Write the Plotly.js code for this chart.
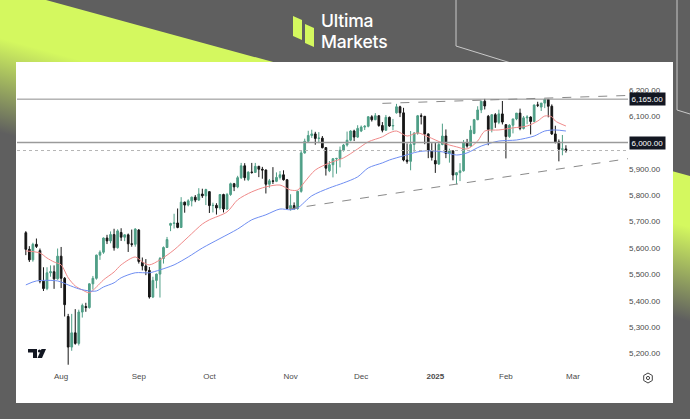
<!DOCTYPE html>
<html>
<head>
<meta charset="utf-8">
<script src="https://cdn.plot.ly/plotly-3.0.1.min.js"></script>
<style>
  html, body { margin:0; padding:0; width:690px; height:419px; overflow:hidden; background:#5f5f5f; }
  #bg { position:absolute; left:0; top:0; }
  #panel { position:absolute; left:16px; top:62px; width:657px; height:341px; background:#ffffff; }
  #chart { width:657px; height:341px; }
  .brand { position:absolute; left:321px; color:#ffffff; font-family:Inter, Roboto, "Liberation Sans", sans-serif; font-weight:500; font-size:17.5px; line-height:17px; letter-spacing:-0.2px; white-space:nowrap; }
  #overlay { position:absolute; left:0; top:0; pointer-events:none; }
</style>
</head>
<body>
<svg id="bg" width="690" height="419" xmlns="http://www.w3.org/2000/svg">
  <defs>
    <linearGradient id="lime" gradientUnits="userSpaceOnUse" x1="360" y1="86" x2="323" y2="221">
      <stop offset="0" stop-color="#d4f85f"/>
      <stop offset="0.35" stop-color="#d4f85f"/>
      <stop offset="1" stop-color="#5f5f5f"/>
    </linearGradient>
  </defs>
  <rect x="0" y="0" width="690" height="419" fill="#5f5f5f"/>
  <polygon points="0,0 46,0 690,176 690,419 0,419" fill="url(#lime)"/>
  <polyline points="456,0 456,46 540,72" fill="none" stroke="#c9c9c9" stroke-width="1"/>
  <polyline points="677,0 677,110 690,114" fill="none" stroke="#c9c9c9" stroke-width="1"/>
  <polygon points="293,16 302,20 302,40 293,36" fill="#d4f85f"/>
  <polygon points="305,24 314,28 314,47 305,43" fill="#d4f85f"/>
</svg>
<div class="brand" style="top:12px;">Ultima</div>
<div class="brand" style="top:33px;">Markets</div>
<div id="panel"><div id="chart"></div></div>
<svg id="overlay" width="690" height="419" xmlns="http://www.w3.org/2000/svg">
  <path d="M28,349 H37 V358 H33 V352.5 H28 Z" fill="#131722"/>
  <circle cx="39.5" cy="351" r="1.6" fill="#131722"/>
  <path d="M41.5,349 H46 L42,358 H37.5 Z" fill="#131722"/>
  <polygon points="648,373 652.3,375.5 652.3,380.5 648,383 643.7,380.5 643.7,375.5" fill="none" stroke="#444" stroke-width="1"/>
  <circle cx="648" cy="378" r="1.6" fill="none" stroke="#444" stroke-width="1"/>
</svg>
<script>
// ---- data (futures daily candles) ----
const dates = [
 '2024-07-18','2024-07-19','2024-07-22','2024-07-23','2024-07-24','2024-07-25','2024-07-26','2024-07-29','2024-07-30','2024-07-31',
 '2024-08-01','2024-08-02','2024-08-05','2024-08-06','2024-08-07','2024-08-08','2024-08-09','2024-08-12','2024-08-13','2024-08-14','2024-08-15','2024-08-16','2024-08-19','2024-08-20','2024-08-21','2024-08-22','2024-08-23','2024-08-26','2024-08-27','2024-08-28','2024-08-29','2024-08-30',
 '2024-09-03','2024-09-04','2024-09-05','2024-09-06','2024-09-09','2024-09-10','2024-09-11','2024-09-12','2024-09-13','2024-09-16','2024-09-17','2024-09-18','2024-09-19','2024-09-20','2024-09-23','2024-09-24','2024-09-25','2024-09-26','2024-09-27','2024-09-30',
 '2024-10-01','2024-10-02','2024-10-03','2024-10-04','2024-10-07','2024-10-08','2024-10-09','2024-10-10','2024-10-11','2024-10-14','2024-10-15','2024-10-16','2024-10-17','2024-10-18','2024-10-21','2024-10-22','2024-10-23','2024-10-24','2024-10-25','2024-10-28','2024-10-29','2024-10-30','2024-10-31',
 '2024-11-01','2024-11-04','2024-11-05','2024-11-06','2024-11-07','2024-11-08','2024-11-11','2024-11-12','2024-11-13','2024-11-14','2024-11-15','2024-11-18','2024-11-19','2024-11-20','2024-11-21','2024-11-22','2024-11-25','2024-11-26','2024-11-27','2024-11-29',
 '2024-12-02','2024-12-03','2024-12-04','2024-12-05','2024-12-06','2024-12-09','2024-12-10','2024-12-11','2024-12-12','2024-12-13','2024-12-16','2024-12-17','2024-12-18','2024-12-19','2024-12-20','2024-12-23','2024-12-24','2024-12-26','2024-12-27','2024-12-30','2024-12-31',
 '2025-01-02','2025-01-03','2025-01-06','2025-01-07','2025-01-08','2025-01-10','2025-01-13','2025-01-14','2025-01-15','2025-01-16','2025-01-17','2025-01-21','2025-01-22','2025-01-23','2025-01-24','2025-01-27','2025-01-28','2025-01-29','2025-01-30','2025-01-31',
 '2025-02-03','2025-02-04','2025-02-05','2025-02-06','2025-02-07','2025-02-10','2025-02-11','2025-02-12','2025-02-13','2025-02-14','2025-02-18','2025-02-19','2025-02-20','2025-02-21','2025-02-24','2025-02-25','2025-02-26','2025-02-27'
];
const openP = [
 5658,5595,5555,5614,5590,5474,5446,5506,5510,5483,
 5569,5485,5340,5224,5278,5238,5357,5378,5374,5464,5485,5573,5584,5638,5627,5651,5601,5659,5641,5650,5616,5614,
 5668,5545,5532,5515,5414,5477,5501,5560,5602,5686,5693,5695,5678,5774,5763,5779,5793,5782,5805,5798,
 5814,5761,5762,5752,5803,5748,5803,5844,5832,5867,5912,5860,5888,5887,5910,5899,5896,5842,5855,5853,5868,5878,5859,
 5750,5761,5750,5815,5961,6005,6027,6033,6016,6017,5981,5893,5916,5939,5940,5971,5991,6009,6044,6021,
 6044,6059,6062,6098,6087,6102,6065,6047,6096,6063,6113,6136,6113,5934,5929,5993,6036,6102,6100,6033,5969,
 5932,5919,5993,6025,5959,5968,5877,5886,5893,6000,5987,6035,6087,6124,6157,6100,6050,6106,6077,6109,
 6068,6023,6066,6090,6112,6054,6094,6097,6080,6143,6135,6150,6164,6138,6033,6003,5975,5976
];
const highP = [
 5664,5607,5620,5636,5598,5527,5527,5534,5534,5598,
 5604,5490,5350,5350,5368,5366,5389,5392,5466,5494,5575,5591,5640,5650,5663,5673,5671,5675,5652,5655,5670,5675,
 5672,5564,5558,5528,5491,5503,5566,5606,5642,5696,5730,5750,5793,5776,5785,5795,5801,5827,5825,5825,
 5815,5772,5770,5805,5806,5809,5848,5847,5874,5923,5922,5891,5923,5923,5912,5908,5898,5862,5907,5887,5892,5895,5862,
 5804,5773,5818,5968,6015,6045,6049,6041,6040,6025,5983,5930,5941,5942,5985,5995,6042,6047,6049,6066,
 6065,6066,6101,6104,6112,6104,6078,6105,6099,6090,6147,6140,6132,5997,6044,6040,6105,6111,6101,6035,5998,
 5999,5999,6072,6050,5977,5972,5887,5922,6010,6014,6064,6090,6138,6157,6166,6105,6107,6112,6125,6158,
 6070,6070,6090,6112,6129,6101,6104,6100,6144,6155,6150,6167,6165,6145,6064,6012,6029,5990
];
const lowP = [
 5573,5547,5548,5600,5466,5437,5440,5491,5445,5480,
 5448,5340,5157,5210,5233,5230,5336,5358,5370,5442,5480,5555,5578,5615,5618,5590,5598,5627,5626,5585,5605,5605,
 5541,5515,5497,5408,5410,5447,5412,5541,5600,5664,5674,5675,5676,5734,5758,5758,5774,5779,5790,5763,
 5733,5735,5727,5745,5735,5745,5798,5816,5827,5862,5856,5854,5882,5885,5869,5863,5807,5829,5843,5850,5860,5856,5748,
 5742,5745,5745,5810,5958,6000,6018,5992,5998,5978,5875,5888,5868,5882,5906,5966,5985,6005,6006,6018,
 6040,6048,6058,6080,6085,6060,6039,6045,6060,6047,6110,6097,5929,5920,5895,5965,6030,6069,5994,5941,5932,
 5885,5915,5990,5941,5924,5857,5842,5854,5890,5981,5985,6032,6085,6112,6126,5990,6039,6056,6070,6069,
 5940,6018,6035,6085,6047,6050,6070,6031,6078,6135,6120,6131,6096,6029,5997,5929,5952,5962
];
const closeP = [
 5595,5555,5614,5606,5474,5446,5506,5510,5483,5569,
 5485,5385,5224,5278,5238,5357,5382,5374,5464,5485,5573,5584,5638,5627,5651,5601,5665,5641,5650,5616,5614,5672,
 5549,5532,5515,5414,5477,5501,5560,5602,5632,5693,5695,5678,5774,5763,5779,5793,5782,5805,5798,5822,
 5761,5762,5752,5803,5748,5803,5844,5832,5867,5912,5867,5888,5887,5910,5899,5896,5842,5855,5853,5868,5878,5859,5750,
 5761,5750,5815,5961,6005,6027,6033,6016,6017,5981,5903,5916,5939,5940,5971,5991,6009,6044,6021,6054,
 6059,6062,6098,6087,6102,6065,6047,6096,6063,6065,6136,6113,5934,5929,5993,6036,6102,6100,6033,5969,5944,
 5919,5993,6025,5959,5968,5877,5886,5893,6000,5987,6047,6087,6124,6157,6139,6050,6106,6077,6109,6078,
 6023,6066,6090,6112,6054,6094,6097,6080,6143,6142,6150,6164,6138,6033,6003,5975,5976,5970
];

const redMaDates = ['2024-07-18','2024-07-24','2024-07-26','2024-07-30','2024-08-01','2024-08-05','2024-08-07','2024-08-09','2024-08-13','2024-08-15','2024-08-19','2024-08-22','2024-08-26','2024-08-30','2024-09-04','2024-09-06','2024-09-11','2024-09-17','2024-09-23','2024-09-27','2024-10-01','2024-10-08','2024-10-11','2024-10-17','2024-10-23','2024-10-29','2024-11-01','2024-11-05','2024-11-07','2024-11-12','2024-11-18','2024-11-22','2024-11-29','2024-12-04','2024-12-10','2024-12-12','2024-12-16','2024-12-19','2024-12-24','2024-12-30','2025-01-06','2025-01-13','2025-01-16','2025-01-22','2025-01-24','2025-01-30','2025-02-05','2025-02-11','2025-02-14','2025-02-19','2025-02-21','2025-02-24','2025-02-27'];
const redMa = [5589,5581,5562,5547,5536,5487,5456,5441,5430,5452,5479,5509,5536,5566,5547,5536,5555,5593,5642,5691,5707,5737,5783,5813,5832,5839,5820,5820,5851,5896,5923,5942,5976,6003,6022,6037,6044,6025,6037,6022,5999,5984,5976,6006,6044,6048,6056,6063,6082,6101,6098,6082,6063];
const blueMaDates = ['2024-07-18','2024-07-23','2024-07-31','2024-08-05','2024-08-08','2024-08-13','2024-08-15','2024-08-19','2024-08-22','2024-08-26','2024-08-30','2024-09-06','2024-09-11','2024-09-17','2024-09-23','2024-09-27','2024-10-04','2024-10-11','2024-10-17','2024-10-23','2024-10-29','2024-11-01','2024-11-05','2024-11-11','2024-11-18','2024-11-22','2024-11-29','2024-12-04','2024-12-10','2024-12-12','2024-12-18','2024-12-24','2024-12-30','2025-01-06','2025-01-13','2025-01-16','2025-01-23','2025-01-30','2025-02-06','2025-02-13','2025-02-19','2025-02-24','2025-02-27'];
const blueMa = [5460,5475,5475,5460,5445,5437,5437,5452,5468,5487,5506,5506,5517,5536,5566,5600,5636,5672,5707,5726,5748,5745,5752,5798,5828,5847,5870,5904,5923,5934,5950,5965,5969,5965,5953,5961,5987,6006,6010,6025,6044,6048,6044];

// horizontal levels and drawn trendlines
const levels = [6165, 6000];
const levelLabels = ['6,165.00', '6,000.00'];
const lastPrice = 5970;
const resistX = ['2024-12-10 12:00', '2025-03-25 02:00'];
const resistY = [6149, 6179];
const supportX = ['2024-11-01 00:00', '2025-03-25 02:00'];
const supportY = [5748, 5939];

// axis ticks
const yTicks = [5200, 5300, 5400, 5500, 5600, 5700, 5800, 5900, 6100, 6200];
const monthTickDates = ['2024-08-01','2024-09-03','2024-10-01','2024-11-01','2024-12-02','2025-01-02','2025-02-03','2025-03-03'];
const monthTickText = ['Aug','Sep','Oct','Nov','Dec','<b>2025</b>','Feb','Mar'];
const holidays = ['2024-09-02','2024-11-28','2024-12-25','2025-01-01','2025-01-09','2025-01-20','2025-02-17'];

const noon = d => d + ' 12:00';

const traces = [
  {
    type: 'candlestick',
    x: dates.map(noon), open: openP, high: highP, low: lowP, close: closeP,
    increasing: { line: { color: '#4f9f87', width: 1 }, fillcolor: '#4f9f87' },
    decreasing: { line: { color: '#161616', width: 1 }, fillcolor: '#161616' },
    whiskerwidth: 0, hoverinfo: 'none'
  },
  {
    type: 'scatter', mode: 'lines', x: redMaDates.map(noon), y: redMa,
    line: { color: '#f08a8a', width: 1, shape: 'spline', smoothing: 0.8 }, hoverinfo: 'none'
  },
  {
    type: 'scatter', mode: 'lines', x: blueMaDates.map(noon), y: blueMa,
    line: { color: '#6f8ef2', width: 1, shape: 'spline', smoothing: 0.8 }, hoverinfo: 'none'
  }
];

const shapes = [
  { type: 'line', xref: 'paper', x0: 0, x1: 1, yref: 'y', y0: levels[0], y1: levels[0], line: { color: '#8c8c8c', width: 1 } },
  { type: 'line', xref: 'paper', x0: 0, x1: 1, yref: 'y', y0: levels[1], y1: levels[1], line: { color: '#9a9a9a', width: 1.5 } },
  { type: 'line', xref: 'paper', x0: 0, x1: 1, yref: 'y', y0: lastPrice, y1: lastPrice, line: { color: '#b5b5b5', width: 1, dash: 'dot' } },
  { type: 'line', xref: 'x', x0: resistX[0], x1: resistX[1], yref: 'y', y0: resistY[0], y1: resistY[1], line: { color: '#8a8a8a', width: 1, dash: 'dash' } },
  { type: 'line', xref: 'x', x0: supportX[0], x1: supportX[1], yref: 'y', y0: supportY[0], y1: supportY[1], line: { color: '#8a8a8a', width: 1, dash: 'dash' } }
];

const annotations = levels.map((v, i) => ({
  xref: 'paper', x: 1, xanchor: 'left', xshift: 1, yref: 'y', y: v, yanchor: 'middle',
  text: levelLabels[i], showarrow: false, bgcolor: '#131722', borderpad: 1.5,
  font: { color: '#ffffff', size: 8, family: 'Liberation Sans, Arial, sans-serif' }
}));

const layout = {
  width: 657, height: 341,
  margin: { l: 1, r: 45, t: 0, b: 33 },
  paper_bgcolor: '#ffffff', plot_bgcolor: '#ffffff',
  showlegend: false, dragmode: false,
  font: { family: 'Liberation Sans, Arial, sans-serif', size: 8, color: '#4a4a4a' },
  xaxis: {
    type: 'date',
    range: ['2024-07-16 00:00', '2025-03-25 02:00'],
    rangebreaks: [ { bounds: ['sat', 'mon'] }, { values: holidays } ],
    rangeslider: { visible: false },
    tickmode: 'array', tickvals: monthTickDates.map(noon), ticktext: monthTickText,
    showgrid: false, zeroline: false, showline: false, ticks: '',
    tickfont: { size: 8, color: '#4a4a4a' }, fixedrange: true
  },
  yaxis: {
    side: 'right', range: [5137, 6306],
    tickmode: 'array', tickvals: yTicks, tickformat: ',.2f',
    showgrid: false, zeroline: false, showline: false, ticks: '',
    tickfont: { size: 8, color: '#4a4a4a' }, fixedrange: true
  },
  shapes: shapes,
  annotations: annotations
};

Plotly.newPlot('chart', traces, layout, { displayModeBar: false, staticPlot: true });
</script>
</body>
</html>
